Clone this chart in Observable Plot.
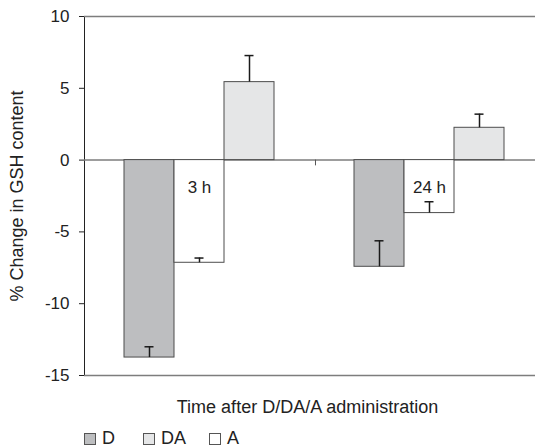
<!DOCTYPE html>
<html>
<head>
<meta charset="utf-8">
<script src="https://cdn.jsdelivr.net/npm/d3@7"></script>
<script src="https://cdn.jsdelivr.net/npm/@observablehq/plot@0.6"></script>
<style>
  html, body { margin: 0; padding: 0; background: #fff; }
  body { position: relative; width: 535px; height: 447px; overflow: hidden;
         font-family: "Liberation Sans", Arial, Helvetica, sans-serif; color: #222; }
  #chart { position: absolute; left: 0; top: 0; }
  .xlabel { position: absolute; left: 84px; width: 447px; top: 397px; line-height: 20px;
            text-align: center; font-size: 18px; }
  .legend { position: absolute; top: 428px; left: 0; height: 19px; width: 535px; font-size: 18px; }
  .item { position: absolute; top: 0; line-height: 20px; white-space: nowrap; }
  .sw { display: inline-block; width: 10px; height: 10px; border: 1px solid #555;
        vertical-align: -1px; margin-right: 6px; }
</style>
</head>
<body>
<div id="chart"></div>
<div class="xlabel">Time after D/DA/A administration</div>
<div class="legend" id="legend"></div>
<script>
// ---- data ----
const times = ["3 h", "24 h"];
const seriesOrder = ["D", "A", "DA"];      // bar order within each time group
const legendOrder = ["D", "DA", "A"];      // legend order
const dValues  = [-13.75, -7.43];
const aValues  = [-7.15, -3.69];
const daValues = [5.43, 2.25];
const dErr  = [0.75, 1.81];
const aErr  = [0.33, 0.79];
const daErr = [1.85, 0.95];
const yTicks = [10, 5, 0, -5, -10, -15];
const seriesFills = ["#bdbec0", "#ffffff", "#e5e6e7"]; // D, A, DA
const yLabel = "% Change in GSH content";

// ---- table ----
const rows = times.flatMap((t, i) => [
  {time: t, series: "D",  value: dValues[i],  err: dErr[i]},
  {time: t, series: "A",  value: aValues[i],  err: aErr[i]},
  {time: t, series: "DA", value: daValues[i], err: daErr[i]}
]);
const errEnd = d => d.value + d.err;

const fxRange = [84, 544];
const padOuter = 0.755;
const step = (fxRange[1] - fxRange[0]) / times.length / (seriesOrder.length + 2 * padOuter);
const capInset = (step - 10) / 2;

const chart = Plot.plot({
  width: 535,
  height: 392,
  marginLeft: 84,
  marginRight: 0,
  marginTop: 16,
  marginBottom: 17,
  style: {fontFamily: "'Liberation Sans', Arial, Helvetica, sans-serif", fontSize: "17px", color: "#222", background: "white", overflow: "visible"},
  fx: {domain: times, range: fxRange, padding: 0, axis: null},
  x: {domain: seriesOrder, paddingInner: 0, paddingOuter: padOuter, axis: null},
  y: {domain: [-15, 10], ticks: yTicks, tickSize: 5, tickPadding: 10, line: true,
      tickFormat: d => String(d),
      label: yLabel, labelAnchor: "center", labelOffset: 74, labelArrow: "none"},
  color: {domain: seriesOrder, range: seriesFills},
  marks: [
    Plot.ruleY([yTicks[0], yTicks[yTicks.length - 1]], {stroke: "#7d7d7d", strokeWidth: 1.5}),
    Plot.ruleY([0], {stroke: "#7d7d7d", strokeWidth: 1.5}),
    Plot.barY(rows, {fx: "time", x: "series", y: "value", fill: "series", stroke: "#4d4d4d", strokeWidth: 1}),
    Plot.ruleX(rows, {fx: "time", x: "series", y1: "value", y2: errEnd, stroke: "#1a1a1a", strokeWidth: 1.5}),
    Plot.tickY(rows, {fx: "time", x: "series", y: errEnd, stroke: "#1a1a1a", strokeWidth: 1.5, insetLeft: capInset, insetRight: capInset}),
    Plot.text(times, {fx: d => d, x: () => "A", y: () => -1.9, text: d => d, fill: "#222", fontSize: 17}),
    Plot.ruleX([times[1]], {fx: d => d, x: () => seriesOrder[0], dx: -(step * padOuter + step / 2), y1: 0, y2: -0.4, stroke: "#555", strokeWidth: 1})
  ]
});
chart.querySelectorAll("text").forEach(t => {
  if (t.textContent === yLabel) t.setAttribute("font-size", "18");
});
document.getElementById("chart").appendChild(chart);

// ---- legend ----
const legendLeft = [84, 143, 209];
const legend = document.getElementById("legend");
legendOrder.forEach((s, i) => {
  const item = document.createElement("div");
  item.className = "item";
  item.style.left = legendLeft[i] + "px";
  const sw = document.createElement("span");
  sw.className = "sw";
  sw.style.background = seriesFills[seriesOrder.indexOf(s)];
  item.appendChild(sw);
  item.appendChild(document.createTextNode(s));
  legend.appendChild(item);
});
</script>
</body>
</html>
